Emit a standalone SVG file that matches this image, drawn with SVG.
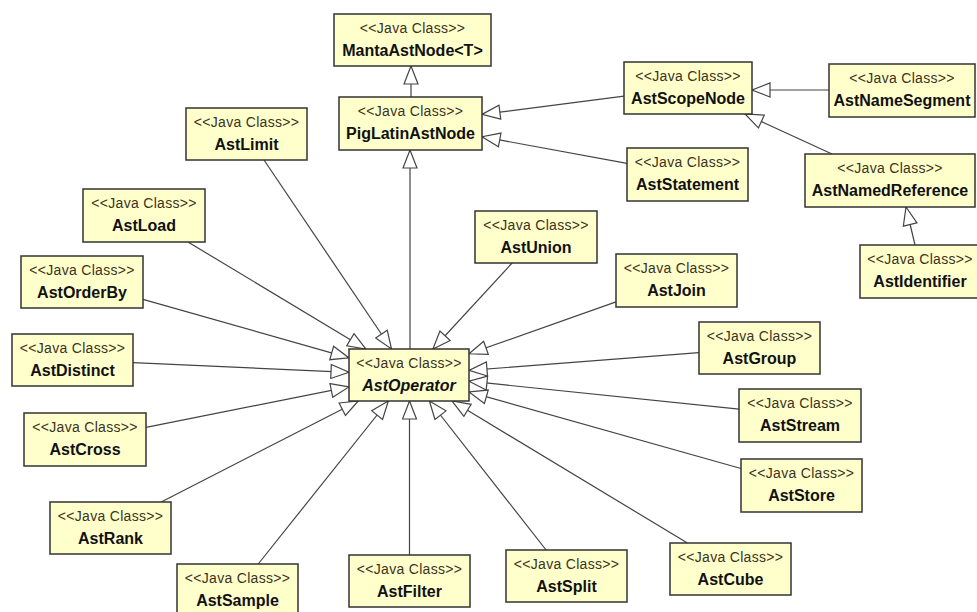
<svg xmlns="http://www.w3.org/2000/svg" width="977" height="612" viewBox="0 0 977 612">
  <style>
    .box { fill: #ffffcc; stroke: #333333; stroke-width: 1.5; }
    .st { font-family: "Liberation Sans", Arial, sans-serif; font-size: 14px; letter-spacing: 0.3px; fill: #3a3320; text-anchor: middle; }
    .nm { font-family: "Liberation Sans", Arial, sans-serif; font-size: 16px; font-weight: bold; fill: #111111; text-anchor: middle; }
    .abs { font-style: italic; }
    .gen { fill: none; stroke: #444444; stroke-width: 1.2; marker-end: url(#hollow); }
  </style>
  <defs>
    <!-- UML generalization: hollow triangle -->
    <marker id="hollow" markerUnits="userSpaceOnUse" markerWidth="20" markerHeight="16" viewBox="-1 -1 20 16" refX="18" refY="7" orient="auto">
      <path d="M0,0 L18,7 L0,14 Z" fill="#ffffff" stroke="#444444" stroke-width="1.2"/>
    </marker>
  </defs>
  <rect width="977" height="612" fill="#ffffff"/>

  <g id="connectors">
    <path class="gen" d="M411,97 L411,66"/>
    <path class="gen" d="M410,349 L410,150"/>
    <path class="gen" d="M624,96.2 L482,114.4"/>
    <path class="gen" d="M627,163.4 L482,136.7"/>
    <path class="gen" d="M829,90 L752,90"/>
    <path class="gen" d="M832,154 L745,114"/>
    <path class="gen" d="M915,245 L906,207"/>
    <path class="gen" d="M264,160 L391.5,349"/>
    <path class="gen" d="M188,242 L365.8,349"/>
    <path class="gen" d="M143,299.3 L349,357.9"/>
    <path class="gen" d="M133,362.7 L349,372.3"/>
    <path class="gen" d="M146,427.4 L349,386.9"/>
    <path class="gen" d="M161.2,502 L358.3,401"/>
    <path class="gen" d="M258.2,564 L388.3,401"/>
    <path class="gen" d="M409.5,555 L409.5,401"/>
    <path class="gen" d="M546.1,550 L429.4,401"/>
    <path class="gen" d="M687.4,543 L452.1,401"/>
    <path class="gen" d="M741,468.5 L469,391.9"/>
    <path class="gen" d="M739,409.2 L469,381.2"/>
    <path class="gen" d="M699,352.7 L469,370.4"/>
    <path class="gen" d="M616,301.9 L469,353.8"/>
    <path class="gen" d="M512.1,263 L432.9,349"/>
  </g>

  <g id="MantaAstNode">
    <rect class="box" x="334" y="14" width="157" height="52"/>
    <text class="st" x="412.5" y="33">&lt;&lt;Java Class&gt;&gt;</text>
    <text class="nm" x="412.5" y="56">MantaAstNode&lt;T&gt;</text>
  </g>
  <g id="PigLatinAstNode">
    <rect class="box" x="339" y="97" width="143" height="53"/>
    <text class="st" x="410.5" y="116">&lt;&lt;Java Class&gt;&gt;</text>
    <text class="nm" x="410.5" y="139">PigLatinAstNode</text>
  </g>
  <g id="AstScopeNode">
    <rect class="box" x="624" y="62" width="128" height="52"/>
    <text class="st" x="688" y="81">&lt;&lt;Java Class&gt;&gt;</text>
    <text class="nm" x="688" y="104">AstScopeNode</text>
  </g>
  <g id="AstNameSegment">
    <rect class="box" x="829" y="64" width="146" height="53"/>
    <text class="st" x="902" y="83">&lt;&lt;Java Class&gt;&gt;</text>
    <text class="nm" x="902" y="106">AstNameSegment</text>
  </g>
  <g id="AstStatement">
    <rect class="box" x="627" y="148" width="121" height="53"/>
    <text class="st" x="687.5" y="167">&lt;&lt;Java Class&gt;&gt;</text>
    <text class="nm" x="687.5" y="190">AstStatement</text>
  </g>
  <g id="AstNamedReference">
    <rect class="box" x="805" y="154" width="170" height="53"/>
    <text class="st" x="890" y="173">&lt;&lt;Java Class&gt;&gt;</text>
    <text class="nm" x="890" y="196">AstNamedReference</text>
  </g>
  <g id="AstIdentifier">
    <rect class="box" x="860" y="245" width="120" height="53"/>
    <text class="st" x="920" y="264">&lt;&lt;Java Class&gt;&gt;</text>
    <text class="nm" x="920" y="287">AstIdentifier</text>
  </g>
  <g id="AstLimit">
    <rect class="box" x="186" y="108" width="121" height="52"/>
    <text class="st" x="246.5" y="127">&lt;&lt;Java Class&gt;&gt;</text>
    <text class="nm" x="246.5" y="150">AstLimit</text>
  </g>
  <g id="AstLoad">
    <rect class="box" x="83" y="189" width="122" height="53"/>
    <text class="st" x="144" y="208">&lt;&lt;Java Class&gt;&gt;</text>
    <text class="nm" x="144" y="231">AstLoad</text>
  </g>
  <g id="AstOrderBy">
    <rect class="box" x="21" y="256" width="122" height="52"/>
    <text class="st" x="82" y="275">&lt;&lt;Java Class&gt;&gt;</text>
    <text class="nm" x="82" y="298">AstOrderBy</text>
  </g>
  <g id="AstDistinct">
    <rect class="box" x="12" y="334" width="121" height="52"/>
    <text class="st" x="72.5" y="353">&lt;&lt;Java Class&gt;&gt;</text>
    <text class="nm" x="72.5" y="376">AstDistinct</text>
  </g>
  <g id="AstCross">
    <rect class="box" x="24" y="413" width="122" height="53"/>
    <text class="st" x="85" y="432">&lt;&lt;Java Class&gt;&gt;</text>
    <text class="nm" x="85" y="455">AstCross</text>
  </g>
  <g id="AstRank">
    <rect class="box" x="50" y="502" width="121" height="52"/>
    <text class="st" x="110.5" y="521">&lt;&lt;Java Class&gt;&gt;</text>
    <text class="nm" x="110.5" y="544">AstRank</text>
  </g>
  <g id="AstSample">
    <rect class="box" x="177" y="564" width="121" height="52"/>
    <text class="st" x="237.5" y="583">&lt;&lt;Java Class&gt;&gt;</text>
    <text class="nm" x="237.5" y="606">AstSample</text>
  </g>
  <g id="AstFilter">
    <rect class="box" x="349" y="555" width="121" height="52"/>
    <text class="st" x="409.5" y="574">&lt;&lt;Java Class&gt;&gt;</text>
    <text class="nm" x="409.5" y="597">AstFilter</text>
  </g>
  <g id="AstSplit">
    <rect class="box" x="506" y="550" width="121" height="52"/>
    <text class="st" x="566.5" y="569">&lt;&lt;Java Class&gt;&gt;</text>
    <text class="nm" x="566.5" y="592">AstSplit</text>
  </g>
  <g id="AstCube">
    <rect class="box" x="670" y="543" width="121" height="52"/>
    <text class="st" x="730.5" y="562">&lt;&lt;Java Class&gt;&gt;</text>
    <text class="nm" x="730.5" y="585">AstCube</text>
  </g>
  <g id="AstStore">
    <rect class="box" x="741" y="459" width="121" height="53"/>
    <text class="st" x="801.5" y="478">&lt;&lt;Java Class&gt;&gt;</text>
    <text class="nm" x="801.5" y="501">AstStore</text>
  </g>
  <g id="AstStream">
    <rect class="box" x="739" y="389" width="122" height="53"/>
    <text class="st" x="800" y="408">&lt;&lt;Java Class&gt;&gt;</text>
    <text class="nm" x="800" y="431">AstStream</text>
  </g>
  <g id="AstGroup">
    <rect class="box" x="699" y="322" width="121" height="52"/>
    <text class="st" x="759.5" y="341">&lt;&lt;Java Class&gt;&gt;</text>
    <text class="nm" x="759.5" y="364">AstGroup</text>
  </g>
  <g id="AstJoin">
    <rect class="box" x="616" y="254" width="121" height="53"/>
    <text class="st" x="676.5" y="273">&lt;&lt;Java Class&gt;&gt;</text>
    <text class="nm" x="676.5" y="296">AstJoin</text>
  </g>
  <g id="AstUnion">
    <rect class="box" x="475" y="211" width="122" height="52"/>
    <text class="st" x="536" y="230">&lt;&lt;Java Class&gt;&gt;</text>
    <text class="nm" x="536" y="253">AstUnion</text>
  </g>
  <g id="AstOperator">
    <rect class="box" x="349" y="349" width="120" height="52"/>
    <text class="st" x="409" y="368">&lt;&lt;Java Class&gt;&gt;</text>
    <text class="nm abs" x="409" y="391">AstOperator</text>
  </g>
</svg>
